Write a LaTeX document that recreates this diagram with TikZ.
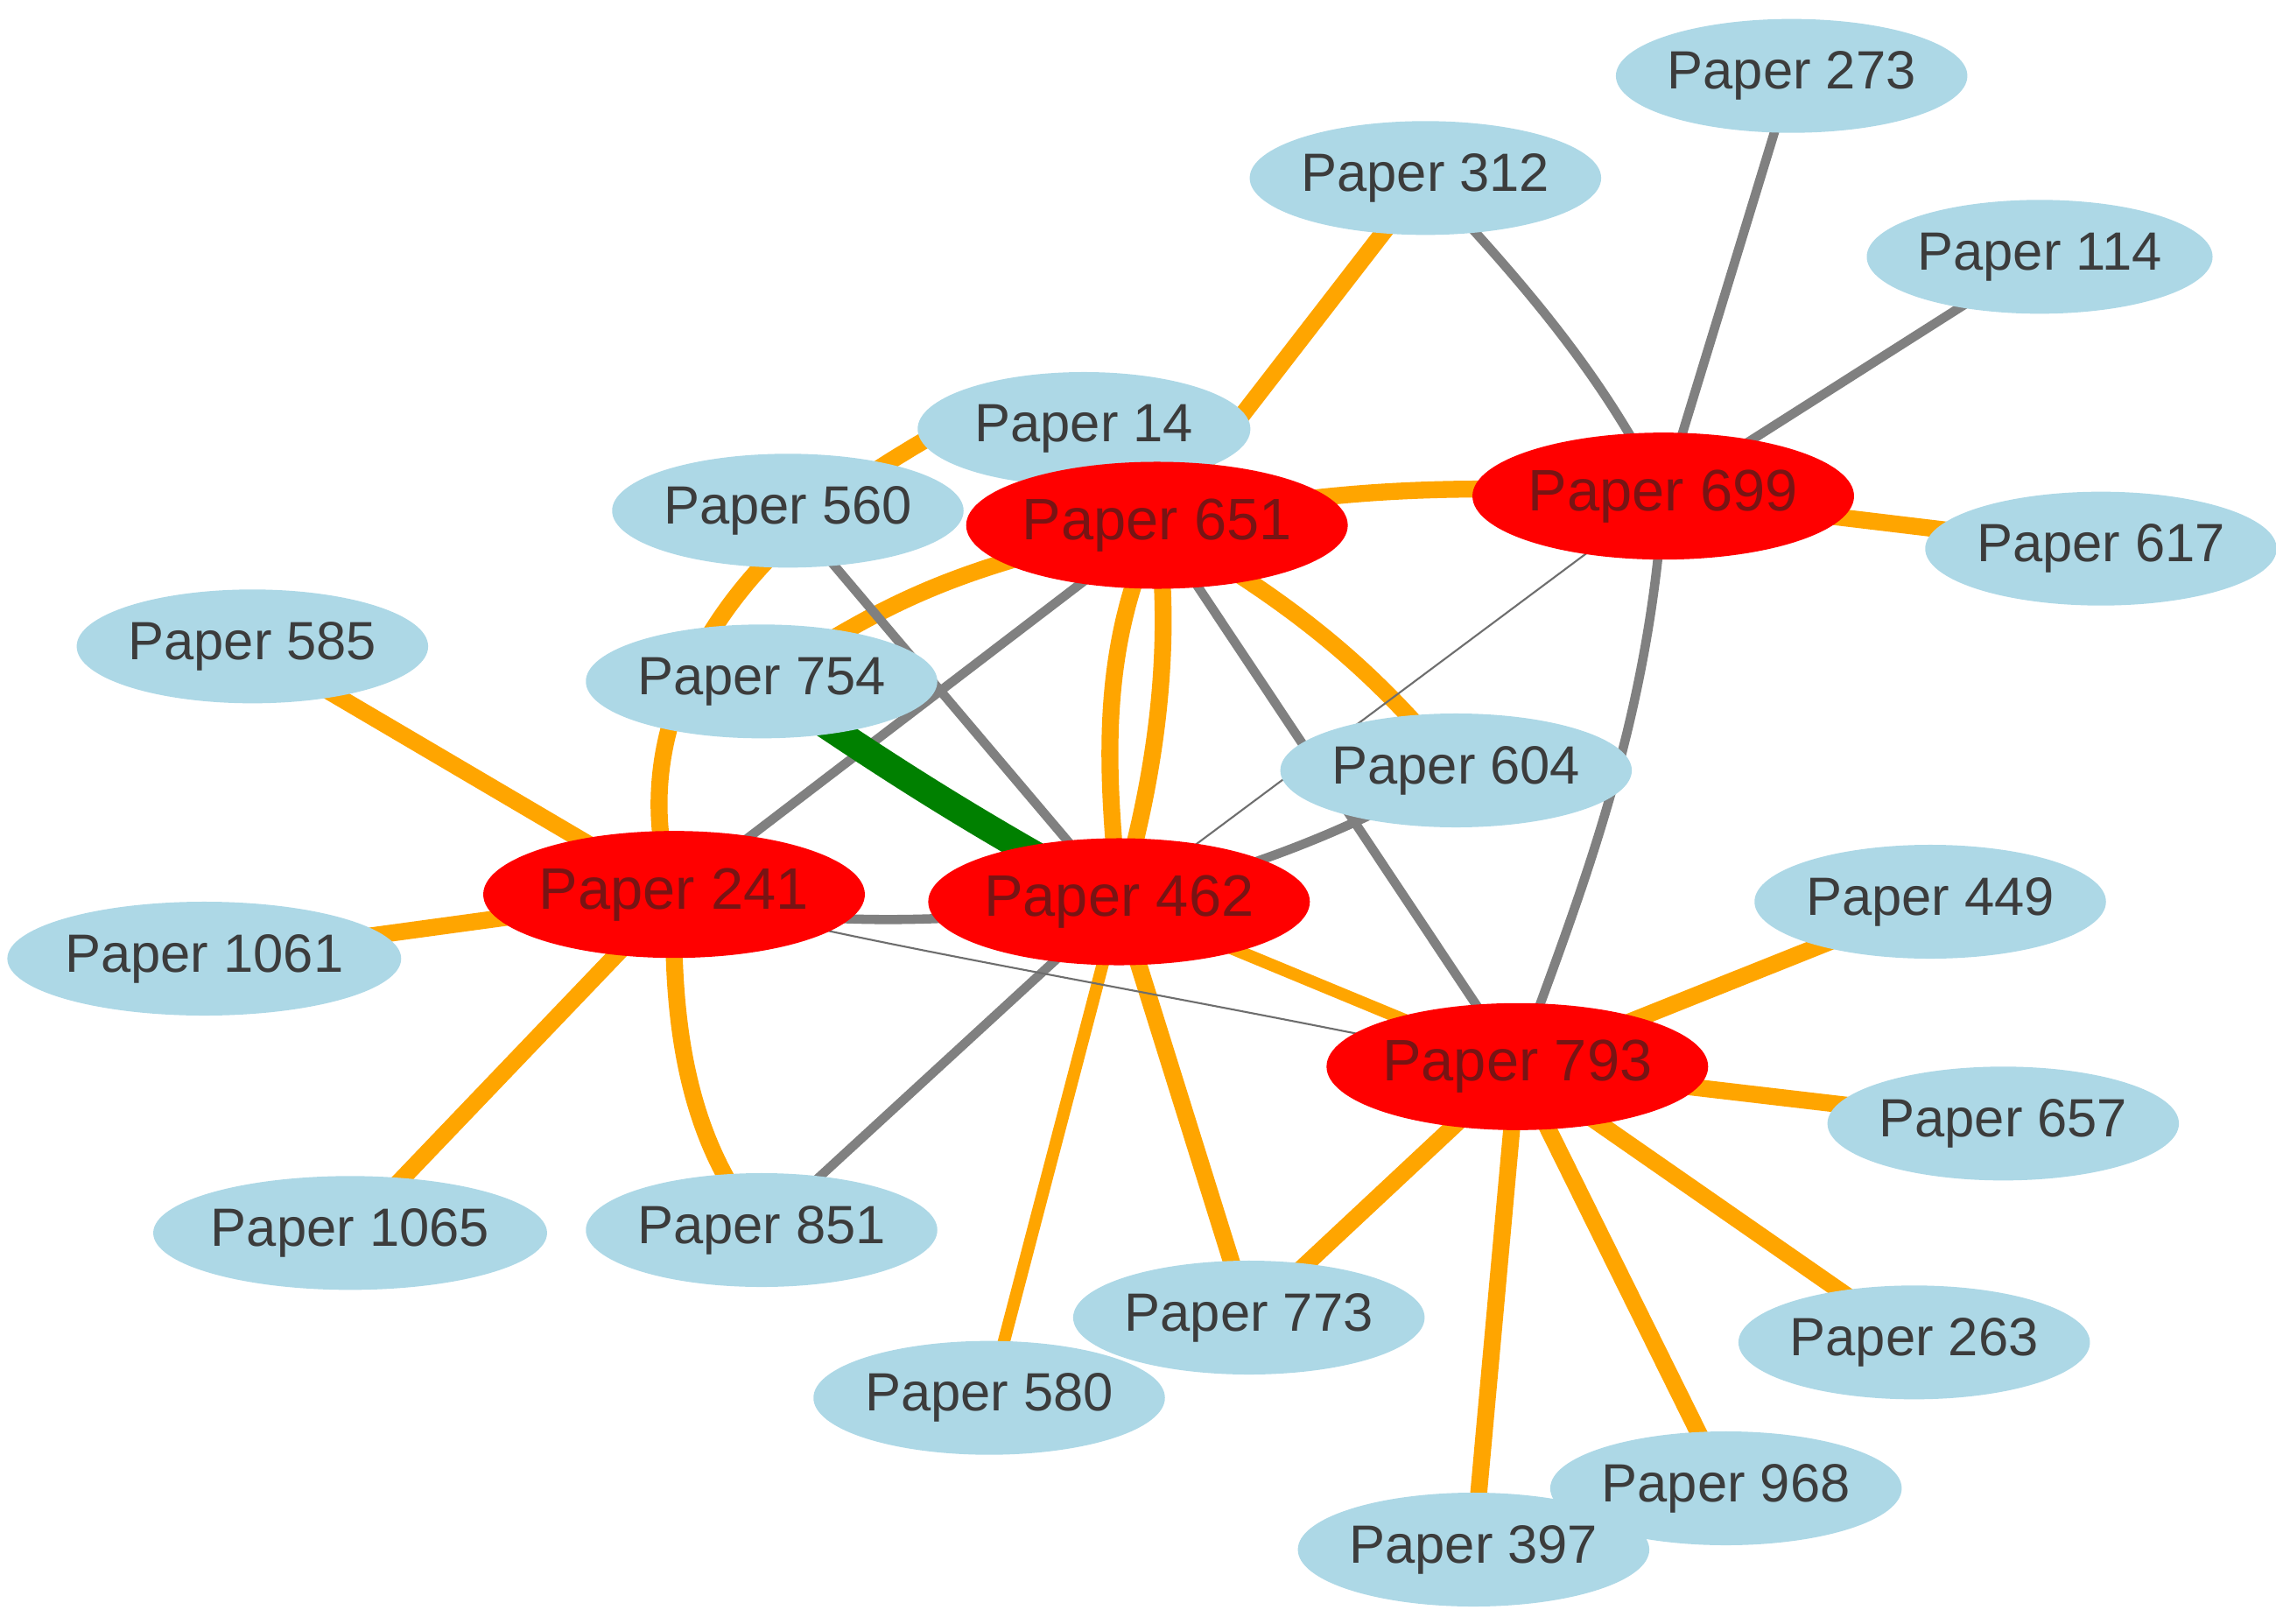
\documentclass[tikz,border=0pt]{standalone}
\usepackage{fontspec}
\setmainfont{Liberation Sans}
\begin{document}
\begin{tikzpicture}[x=0.016667cm,y=-0.016667cm,
 bl/.style={ellipse,fill={rgb,255:red,173;green,216;blue,230},minimum width=228\pgflinewidth*0+3.8cm,minimum height=1.3cm,inner sep=0pt,font=\fontsize{17.5}{20}\selectfont,text={rgb,255:red,60;green,60;blue,60}},
 rd/.style={ellipse,fill=red,minimum width=4.1cm,minimum height=1.45cm,inner sep=0pt,font=\fontsize{19}{22}\selectfont,text={rgb,255:red,120;green,20;blue,20}},
 oe/.style={draw={rgb,255:red,255;green,165;blue,0},line width=5.5pt},
 oet/.style={draw={rgb,255:red,255;green,165;blue,0},line width=4pt},
 ge/.style={draw={rgb,255:red,128;green,128;blue,128},line width=3pt},
 te/.style={draw={rgb,255:red,110;green,110;blue,110},line width=0.6pt},
 gr/.style={draw={rgb,255:red,0;green,128;blue,0},line width=9pt}]
\usetikzlibrary{shapes.geometric}
\useasboundingbox (0,0) rectangle (1560,1113);
% node positions
\coordinate (c273) at (1228,52); \coordinate (c312) at (977,122);
\coordinate (c114) at (1398,176); \coordinate (c14) at (743,294);
\coordinate (c560) at (540,350); \coordinate (c651) at (793,360);
\coordinate (c699) at (1140,340); \coordinate (c617) at (1440,376);
\coordinate (c585) at (173,443); \coordinate (c754) at (522,467);
\coordinate (c604) at (998,528); \coordinate (c241) at (462,613);
\coordinate (c462) at (767,618); \coordinate (c449) at (1323,618);
\coordinate (c1061) at (140,657); \coordinate (c793) at (1040,731);
\coordinate (c657) at (1373,770); \coordinate (c1065) at (240,845);
\coordinate (c851) at (522,843); \coordinate (c773) at (856,903);
\coordinate (c263) at (1312,920); \coordinate (c580) at (678,958);
\coordinate (c968) at (1183,1020); \coordinate (c397) at (1010,1062);
% edges
\draw[oe] (c651) .. controls (800,240) and (700,260) .. (620,310) .. controls (470,400) and (430,520) .. (c241);
\draw[oe] (c241) .. controls (460,700) and (470,780) .. (c851);
\draw[oe] (c312) -- (c651);
\draw[oe] (c651) .. controls (900,335) and (1000,330) .. (c699);
\draw[oe] (c699) -- (c617);
\draw[oe] (c651) .. controls (900,420) and (950,470) .. (c604);
\draw[oe] (c651) .. controls (750,450) and (760,540) .. (c462);
\draw[oe] (c651) .. controls (805,450) and (790,540) .. (c462);
\draw[oe] (c754) .. controls (600,420) and (640,390) .. (c651);
\draw[oe] (c585) -- (c241); \draw[oe] (c1061) -- (c241); \draw[oe] (c1065) -- (c241);
\draw[oet] (c462) -- (c793);
\draw[oet] (c462) -- (c580);
\draw[oe] (c462) -- (c773);
\foreach \n in {449,657,263,968,397,773} \draw[oe] (c793) -- (c\n);
\draw[ge] (c312) .. controls (1050,200) and (1100,260) .. (c699);
\draw[ge] (c273) -- (c699); \draw[ge] (c114) -- (c699);
\draw[ge] (c699) .. controls (1130,500) and (1080,620) .. (c793);
\draw[ge] (c241) -- (c651);
\draw[ge] (c560) -- (c462);
\draw[ge] (c651) -- (c793);
\draw[ge] (c462) .. controls (880,590) and (940,560) .. (c604);
\draw[ge] (c241) .. controls (560,640) and (680,630) .. (c462);
\draw[ge] (c462) -- (c851);
\draw[te] (c462) -- (c699);
\draw[te] (c241) .. controls (600,650) and (800,680) .. (c793);
\draw[gr] (c754) .. controls (600,520) and (660,560) .. (c462);
% nodes
\foreach \n in {273,312,114,14,560,617,585,754,604,449,1061,657,1065,851,773,263,580,968,397}
  \node[bl] (n\n) at (c\n) {Paper \n};
\foreach \n in {651,699,241,462,793}
  \node[rd] (n\n) at (c\n) {Paper \n};
\end{tikzpicture}
\end{document}
